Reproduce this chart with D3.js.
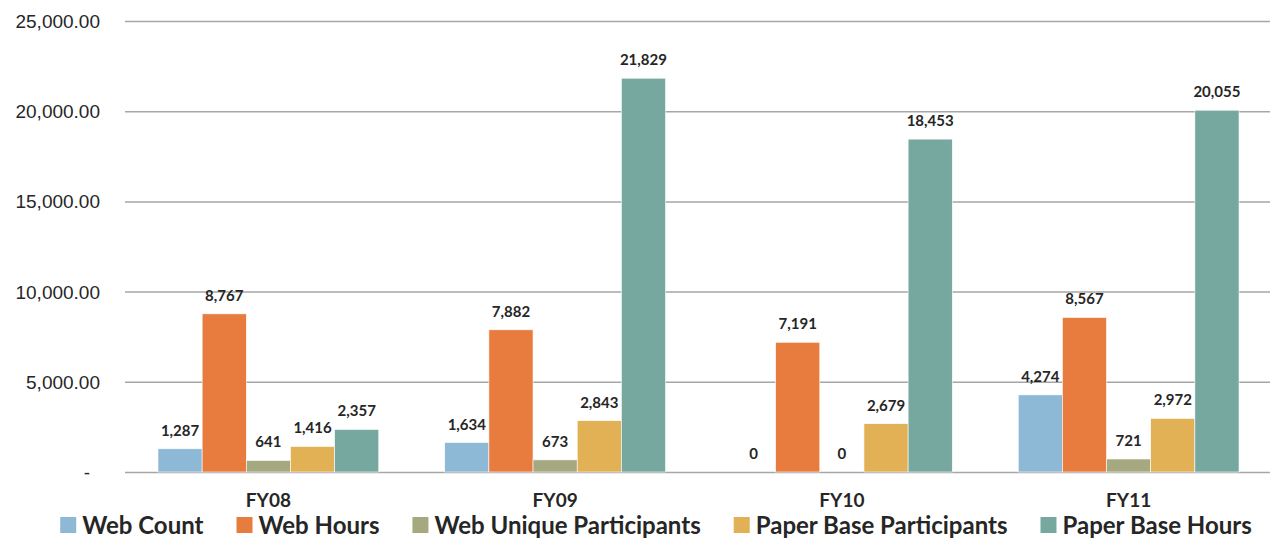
<!DOCTYPE html>
<html>
<head>
<meta charset="utf-8">
<script src="https://cdn.jsdelivr.net/npm/d3@7/dist/d3.min.js"></script>
<style>
  html, body { margin: 0; padding: 0; background: #ffffff; }
  svg { display: block; font-family: Lato, "Open Sans", sans-serif; }
</style>
</head>
<body>
<svg id="chart" width="1270" height="538"></svg>
<script>
// Fiscal years on the category axis
const years = ["FY08", "FY09", "FY10", "FY11"];

// One series per measure, one value per fiscal year
const seriesNames = ["Web Count", "Web Hours", "Web Unique Participants", "Paper Base Participants", "Paper Base Hours"];
const webCount = [1287, 1634, 0, 4274];
const webHours = [8767, 7882, 7191, 8567];
const webUnique = [641, 673, 0, 721];
const paperParticipants = [1416, 2843, 2679, 2972];
const paperHours = [2357, 21829, 18453, 20055];

// Value axis ticks
const yTicks = [0, 5000, 10000, 15000, 20000, 25000];

const seriesValues = [webCount, webHours, webUnique, paperParticipants, paperHours];
const colors = ["#8db8d6", "#e87c3e", "#a6a880", "#e2b055", "#76a89f"];

const svg = d3.select("#chart");
const plot = { left: 125, right: 1272, top: 21, bottom: 472 };

const x0 = d3.scaleBand().domain(years).range([plot.left, plot.right]).paddingInner(0).paddingOuter(0);
const groupPad = x0.bandwidth() * 0.115;
const x1 = d3.scaleBand().domain(seriesNames).range([groupPad, x0.bandwidth() - groupPad]).padding(0);
const y = d3.scaleLinear().domain([0, 25000]).range([plot.bottom, plot.top]);
const color = d3.scaleOrdinal().domain(seriesNames).range(colors);

// Horizontal gridlines with value labels
const yAxis = d3.axisLeft(y)
  .tickValues(yTicks)
  .tickSize(-(plot.right - plot.left))
  .tickPadding(25)
  .tickFormat(d => d === 0 ? "-" : d3.format(",.2f")(d));

const gy = svg.append("g")
  .attr("transform", `translate(${plot.left},0)`)
  .call(yAxis);
gy.select(".domain").remove();
gy.selectAll(".tick line").attr("stroke", "#a6a6a6").attr("stroke-width", 1.5);
gy.selectAll(".tick text")
  .attr("fill", "#262626")
  .style("font-size", "19px")
  .attr("dy", "0.34em");
gy.selectAll(".tick text").filter(d => d === 0).attr("dx", -10);

// Bars
const rows = years.map((yr, i) => ({ year: yr, items: seriesNames.map((s, k) => ({ series: s, value: seriesValues[k][i] })) }));

const groups = svg.append("g").selectAll("g")
  .data(rows)
  .join("g")
  .attr("transform", d => `translate(${x0(d.year)},0)`);

groups.selectAll("rect")
  .data(d => d.items)
  .join("rect")
  .attr("x", d => x1(d.series))
  .attr("y", d => y(d.value))
  .attr("width", x1.bandwidth())
  .attr("height", d => y(0) - y(d.value))
  .attr("fill", d => color(d.series))
  .attr("stroke", "#ffffff")
  .attr("stroke-width", 0.6);

// Value labels above bars
groups.selectAll("text")
  .data(d => d.items)
  .join("text")
  .attr("x", d => x1(d.series) + x1.bandwidth() / 2)
  .attr("y", d => y(d.value) - 13)
  .attr("text-anchor", "middle")
  .attr("fill", "#262626")
  .style("font-size", "15px")
  .style("font-weight", "bold")
  .text(d => d3.format(",")(d.value));

// Category labels
svg.append("g").selectAll("text")
  .data(years)
  .join("text")
  .attr("x", d => x0(d) + x0.bandwidth() / 2)
  .attr("y", 507)
  .attr("text-anchor", "middle")
  .attr("fill", "#262626")
  .style("font-size", "19px")
  .style("font-weight", "bold")
  .text(d => d);

// Legend
const legend = svg.append("g").attr("class", "legend");
const legendY = 534;
const sq = 16, sqGap = 6, itemGap = 33;
const items = legend.selectAll("g")
  .data(seriesNames)
  .join("g");
items.append("rect")
  .attr("width", sq).attr("height", sq)
  .attr("y", legendY - sq - 1)
  .attr("fill", d => color(d));
items.append("text")
  .attr("x", sq + sqGap)
  .attr("y", legendY)
  .attr("fill", "#262626")
  .style("font-size", "24px")
  .style("font-weight", "bold")
  .text(d => d);

let cursor = 0;
const widths = [];
items.each(function () {
  const w = sq + sqGap + d3.select(this).select("text").node().getComputedTextLength();
  widths.push(w);
});
const total = d3.sum(widths) + itemGap * (widths.length - 1);
cursor = 656 - total / 2;
items.attr("transform", (d, i) => {
  const tx = cursor;
  cursor += widths[i] + itemGap;
  return `translate(${tx},0)`;
});
</script>
</body>
</html>
